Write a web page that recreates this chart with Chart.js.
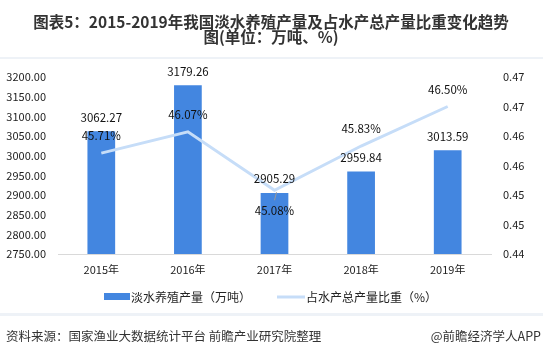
<!DOCTYPE html>
<html><head><meta charset="utf-8">
<script src="https://cdn.jsdelivr.net/npm/chart.js@4"></script>
<style>html,body{margin:0;padding:0;background:#fff;}#wrap{width:543px;height:357px;position:relative;}</style>
</head><body><div id="wrap"><canvas id="c" width="543" height="357"></canvas></div>
<script>
const categories = ['2015年','2016年','2017年','2018年','2019年'];
const freshwaterOutput = [3062.27, 3179.26, 2905.29, 2959.84, 3013.59];
const shareOfTotal = [0.4571, 0.4607, 0.4508, 0.4583, 0.4650];
const shareLabels = ['45.71%','46.07%','45.08%','45.83%','46.50%'];
const seriesNames = ['淡水养殖产量（万吨）','占水产总产量比重（%）'];
const titleLines = ['图表5：2015-2019年我国淡水养殖产量及占水产总产量比重变化趋势','图(单位：万吨、%)'];
const sourceText = '资料来源：国家渔业大数据统计平台 前瞻产业研究院整理';
const brandText = '@前瞻经济学人APP';

const FONT = '"Noto Sans CJK SC", "Liberation Sans", sans-serif';
const BAR = '#4386E0';
const LINE = '#C6DDF8';

const extras = {
  id: 'extras',
  afterDraw(chart) {
    const ctx = chart.ctx;
    ctx.save();
    // title
    ctx.fillStyle = '#333';
    ctx.textAlign = 'center';
    ctx.textBaseline = 'middle';
    ctx.font = 'bold 15.5px ' + FONT;
    ctx.fillText(titleLines[0], 271, 22);
    ctx.fillText(titleLines[1], 271, 37);
    // separators
    ctx.fillStyle = '#eef2f7';
    ctx.fillRect(0, 57, 543, 2);
    ctx.fillRect(0, 313, 543, 3);
    // data labels
    ctx.fillStyle = '#111';
    ctx.font = '11.5px ' + FONT;
    const barMeta = chart.getDatasetMeta(0);
    barMeta.data.forEach((el, i) => {
      ctx.fillText(freshwaterOutput[i].toFixed(2), el.x, el.y - 14);
    });
    const lineMeta = chart.getDatasetMeta(1);
    lineMeta.data.forEach((el, i) => {
      const below = i === 2;
      if (below) {
        ctx.strokeStyle = '#999';
        ctx.lineWidth = 1;
        ctx.beginPath();
        ctx.moveTo(el.x + 2, el.y + 2);
        ctx.lineTo(el.x, el.y + 10);
        ctx.stroke();
      }
      ctx.fillText(shareLabels[i], el.x, below ? el.y + 20 : el.y - 17);
    });
    // legend
    ctx.font = '12px ' + FONT;
    ctx.textAlign = 'left';
    ctx.fillStyle = BAR;
    ctx.fillRect(104, 293, 26, 7);
    ctx.fillStyle = '#222';
    ctx.fillText(seriesNames[0], 131, 297);
    ctx.strokeStyle = LINE;
    ctx.lineWidth = 3;
    ctx.beginPath();
    ctx.moveTo(277, 297);
    ctx.lineTo(305, 297);
    ctx.stroke();
    ctx.fillText(seriesNames[1], 306, 297);
    // footer
    ctx.fillStyle = '#333';
    ctx.font = '12.5px ' + FONT;
    ctx.fillText(sourceText, 6, 336);
    ctx.textAlign = 'right';
    ctx.fillText(brandText, 541, 336);
    ctx.restore();
  }
};

new Chart(document.getElementById('c'), {
  data: {
    labels: categories,
    datasets: [
      { type: 'bar', label: seriesNames[0], data: freshwaterOutput, backgroundColor: BAR,
        yAxisID: 'y', barPercentage: 0.64, categoryPercentage: 0.5, order: 2 },
      { type: 'line', label: seriesNames[1], data: shareOfTotal, borderColor: LINE,
        borderWidth: 3, pointRadius: 0, tension: 0, yAxisID: 'y1', order: 1 }
    ]
  },
  options: {
    responsive: false,
    animation: false,
    devicePixelRatio: 1,
    layout: { padding: { top: 77, bottom: 83, left: 0, right: 0 } },
    plugins: { legend: { display: false }, title: { display: false }, tooltip: { enabled: false } },
    scales: {
      x: {
        grid: { display: false, drawTicks: false },
        border: { display: true, color: '#d9d9d9' },
        ticks: { color: '#222', font: { family: FONT, size: 11 }, padding: 9, maxRotation: 0 },
        afterFit(s) { s.height = 20; }
      },
      y: {
        position: 'left', min: 2750, max: 3200,
        grid: { display: false, drawTicks: false },
        border: { display: false },
        ticks: { stepSize: 50, color: '#222', font: { family: FONT, size: 11 }, padding: 12,
          callback: v => Number(v).toFixed(2) },
        afterFit(s) { s.width = 58; }
      },
      y1: {
        position: 'right', min: 0.44, max: 0.47,
        grid: { display: false, drawTicks: false },
        border: { display: false },
        ticks: { stepSize: 0.005, color: '#222', font: { family: FONT, size: 11 }, padding: 12,
          callback: v => (Math.round(v * 100 + 1e-6) / 100).toFixed(2) },
        afterFit(s) { s.width = 52; }
      }
    }
  },
  plugins: [extras]
});
</script></body></html>
